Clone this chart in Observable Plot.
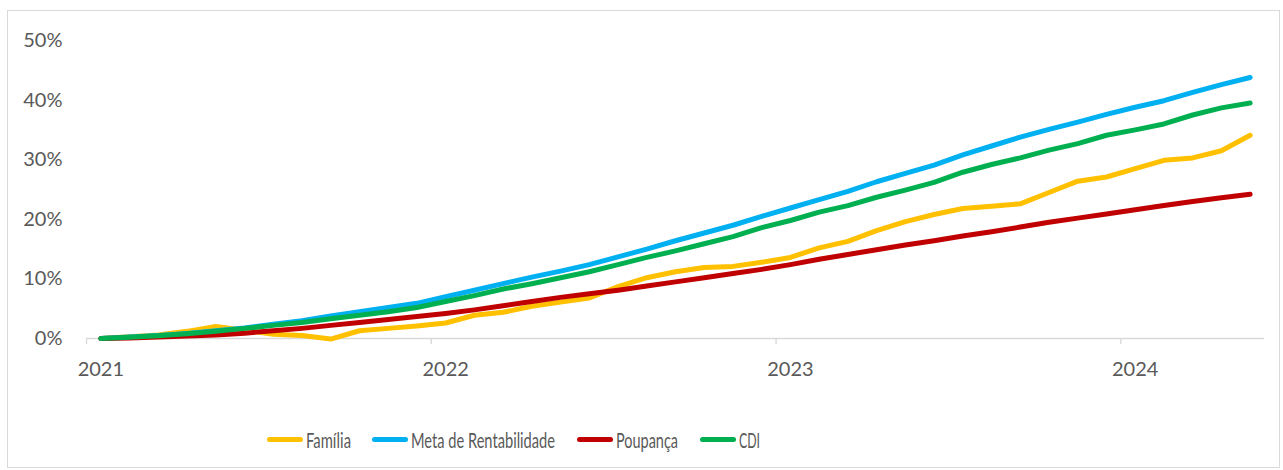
<!DOCTYPE html>
<html><head><meta charset="utf-8">
<script src="https://cdn.jsdelivr.net/npm/d3@7"></script>
<script src="https://cdn.jsdelivr.net/npm/@observablehq/plot@0.6"></script>
<style>
body{margin:0;background:#fff;font-family:Lato,"Open Sans",sans-serif;}
#frame{position:absolute;left:7px;top:10px;width:1273px;height:458px;border:1px solid #d9d9d9;box-sizing:border-box;}
#chart{position:absolute;left:0;top:0;}
#legend{position:absolute;left:0;top:0;width:1283px;height:470px;}
.item{position:absolute;top:427px;height:24px;display:flex;align-items:center;}
.sw{width:36px;height:5px;border-radius:3px;flex:none;}
.lbl{font-size:21px;color:#595959;margin-left:3px;transform-origin:left center;white-space:nowrap;display:inline-block;}
</style></head><body>
<div id="frame"></div><div id="chart"></div><div id="legend"></div>
<script>
const seriesNames = ["Família", "Meta de Rentabilidade", "Poupança", "CDI"];
const seriesColors = ["#FFC000", "#00B0F0", "#C00000", "#00B050"];
const yearLabels = ["2021", "2022", "2023", "2024"];
const yTicks = [0, 10, 20, 30, 40, 50];
// monthly categories, Jan 2021 – May 2024
const months = d3.utcMonth.range(new Date(Date.UTC(2021, 0, 1)), new Date(Date.UTC(2024, 5, 1)));

// cumulative return, %
const familia = [0.0,0.3,0.6,1.2,2.0,1.4,0.7,0.5,-0.1,1.3,1.7,2.1,2.6,3.9,4.4,5.4,6.1,6.8,8.7,10.2,11.2,11.9,12.1,12.8,13.6,15.2,16.3,18.1,19.6,20.8,21.8,22.2,22.6,24.5,26.4,27.1,28.5,29.9,30.3,31.5,34.1];
const meta = [0.0,0.25,0.5,0.85,1.3,1.75,2.4,3.0,3.8,4.5,5.2,5.9,7.0,8.1,9.2,10.3,11.3,12.4,13.7,15.0,16.4,17.7,19.0,20.5,21.9,23.3,24.7,26.3,27.7,29.1,30.8,32.3,33.8,35.1,36.3,37.6,38.8,39.9,41.3,42.6,43.8];
const poupanca = [0.0,0.1,0.25,0.4,0.6,0.9,1.3,1.7,2.2,2.7,3.2,3.7,4.2,4.8,5.5,6.2,6.9,7.5,8.1,8.8,9.5,10.2,10.9,11.6,12.4,13.3,14.1,14.9,15.7,16.4,17.2,17.9,18.7,19.5,20.2,20.9,21.6,22.3,23.0,23.6,24.2];
const cdi = [0.0,0.2,0.45,0.8,1.2,1.7,2.2,2.7,3.3,3.9,4.5,5.2,6.2,7.2,8.3,9.2,10.2,11.2,12.4,13.6,14.7,15.9,17.1,18.6,19.8,21.2,22.3,23.7,24.9,26.2,27.9,29.2,30.3,31.6,32.7,34.1,35.0,36.0,37.5,38.7,39.5];

const seriesValues = [familia, meta, poupanca, cdi];
const rows = seriesValues.flatMap((vals, k) => vals.map((v, i) => ({i, v, s: seriesNames[k]})));
const yearStarts = yearLabels.map(y => months.findIndex(m => m.getUTCFullYear() === +y));

const chart = Plot.plot({
  width: 1283, height: 390,
  marginLeft: 86, marginRight: 19, marginTop: 40, marginBottom: 52,
  style: {fontFamily: "Lato, 'Open Sans', sans-serif", fontSize: "20px", color: "#595959", background: "transparent", overflow: "visible"},
  x: {domain: [-0.5, months.length - 0.5]},
  y: {domain: [0, 50]},
  color: {domain: seriesNames, range: seriesColors},
  marks: [
    Plot.axisY({ticks: yTicks, tickSize: 0, tickPadding: 24, tickFormat: d => d + "%", label: null, fontSize: 20}),
    Plot.ruleY([0], {stroke: "#d9d9d9", strokeWidth: 1.4}),
    Plot.axisX({ticks: yearStarts.map(i => i - 0.5), tickSize: 6, stroke: "#d9d9d9", strokeWidth: 1.4, tickFormat: () => "", label: null}),
    Plot.axisX({ticks: yearStarts, tickSize: 0, tickPadding: 23, tickFormat: i => yearLabels[yearStarts.indexOf(i)], label: null, fontSize: 20}),
    Plot.line(rows, {x: "i", y: "v", z: "s", stroke: "s", strokeWidth: 5, strokeLinecap: "round", strokeLinejoin: "round"})
  ]
});
document.getElementById("chart").append(chart);

// legend
const legendLeft = [267, 372, 577, 700];
const legendTextWidth = [45, 144, 62, 21];
const legend = document.getElementById("legend");
seriesNames.forEach((name, k) => {
  const item = document.createElement("div");
  item.className = "item";
  item.style.left = legendLeft[k] + "px";
  const sw = document.createElement("div");
  sw.className = "sw";
  sw.style.background = seriesColors[k];
  const lbl = document.createElement("span");
  lbl.className = "lbl";
  lbl.textContent = name;
  item.append(sw, lbl);
  legend.append(item);
  const w = lbl.getBoundingClientRect().width;
  lbl.style.transform = `scaleX(${legendTextWidth[k] / w})`;
});
</script>
</body></html>
